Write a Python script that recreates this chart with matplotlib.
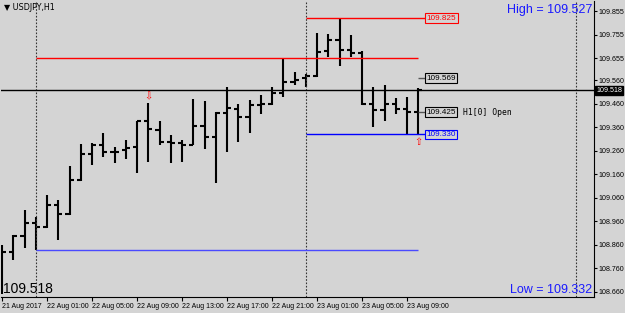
import matplotlib
matplotlib.use('Agg')
import matplotlib.pyplot as plt
import matplotlib.transforms as mtransforms
import numpy as np

# USDJPY H1 bars, 21 Aug 21:00 -> 23 Aug 10:00
opens = [108.838, 108.829, 108.898, 108.953, 108.936, 109.029, 108.991, 109.136, 109.246, 109.285,
         109.255, 109.264, 109.276, 109.385, 109.349, 109.296, 109.293, 109.285, 109.366, 109.319,
         109.421, 109.440, 109.404, 109.455, 109.459, 109.506, 109.553, 109.570, 109.578, 109.683,
         109.732, 109.689, 109.676, 109.459, 109.434, 109.459, 109.438, 109.425]
highs = [108.859, 108.902, 109.008, 108.978, 109.072, 109.051, 109.195, 109.289, 109.293, 109.336,
         109.276, 109.306, 109.387, 109.464, 109.387, 109.327, 109.306, 109.481, 109.472, 109.425,
         109.532, 109.459, 109.476, 109.498, 109.532, 109.655, 109.595, 109.587, 109.761, 109.757,
         109.825, 109.753, 109.685, 109.532, 109.540, 109.485, 109.489, 109.527]
lows = [108.651, 108.795, 108.846, 108.838, 108.932, 108.881, 108.987, 109.132, 109.200, 109.234,
        109.208, 109.225, 109.166, 109.212, 109.285, 109.208, 109.212, 109.285, 109.268, 109.123,
        109.255, 109.298, 109.336, 109.417, 109.455, 109.489, 109.540, 109.532, 109.574, 109.659,
        109.621, 109.659, 109.455, 109.361, 109.387, 109.417, 109.330, 109.332]
closes = [108.829, 108.898, 108.953, 108.936, 109.029, 108.991, 109.136, 109.246, 109.285, 109.255,
          109.255, 109.272, 109.385, 109.353, 109.298, 109.293, 109.285, 109.366, 109.319, 109.421,
          109.442, 109.404, 109.455, 109.459, 109.506, 109.553, 109.561, 109.578, 109.680, 109.732,
          109.689, 109.676, 109.459, 109.434, 109.459, 109.438, 109.425, 109.518]

tick_bars = [0, 4, 8, 12, 16, 20, 24, 28, 32, 36]
tick_labels = ['21 Aug 2017', '22 Aug 01:00', '22 Aug 05:00', '22 Aug 09:00', '22 Aug 13:00',
               '22 Aug 17:00', '22 Aug 21:00', '23 Aug 01:00', '23 Aug 05:00', '23 Aug 09:00']
price_ticks = [109.855, 109.755, 109.655, 109.560, 109.460, 109.360, 109.260,
               109.160, 109.060, 108.960, 108.860, 108.760, 108.660]
day_starts = [3, 27, 51]

bid = 109.518
prev_high, prev_low = 109.655, 108.838
day_high, day_low = 109.825, 109.330
open_price = 109.425
level_569 = 109.569

bg = '#d4d4d4'
small = 'Liberation Sans'
fig = plt.figure(figsize=(6.25, 3.13), dpi=100, facecolor=bg)
ax = fig.add_axes([1/625, 16/313, 593/625, 296/313])
ax.set_facecolor(bg)

x = np.arange(len(opens))
ax.vlines(x, lows, highs, color='black', lw=1.5)
ax.hlines(opens, x - 0.36, x, color='black', lw=1.5)
ax.hlines(closes, x, x + 0.36, color='black', lw=1.5)

for d in day_starts:
    ax.axvline(d, color='#333333', ls=(0, (1.5, 1.5)), lw=0.8)

ax.axhline(bid, color='black', lw=1)

end = len(opens) - 1
lab_x = end + 0.65
ax.hlines(prev_high, 3, end, color='red', lw=1)
ax.hlines(prev_low, 3, end, color='#4a4aff', lw=1)
ax.hlines(day_high, 27, lab_x, color='red', lw=1)
ax.hlines(day_low, 27, lab_x, color='blue', lw=1)
ax.hlines([open_price, level_569], end, lab_x, color='#555555', lw=1)

box = dict(boxstyle='square,pad=0.15', fc=bg, lw=0.8)
for val, col in [(day_high, 'red'), (level_569, 'black'), (open_price, 'black'), (day_low, 'blue')]:
    ax.text(lab_x + 0.1, val, f'{val:.3f}', color=col, fontsize=5.9, family=small,
            va='center', ha='left', bbox=dict(box, ec=col))
ax.text(41.0, open_price, 'H1[0] Open', fontsize=5.8, family='DejaVu Sans Mono',
        va='center', ha='left', color='black')

# high / low arrows
ax.text(13, highs[13] + 0.008, '\u21e9', color='red', fontsize=7, ha='center', va='bottom')
ax.text(end, day_low - 0.012, '\u21e7', color='red', fontsize=7, ha='center', va='top')

ax.text(0.997, 0.99, 'High = 109.527', transform=ax.transAxes, ha='right', va='top',
        color='#1a1aff', fontsize=9, family=small)
ax.text(0.997, 0.005, 'Low = 109.332', transform=ax.transAxes, ha='right', va='bottom',
        color='#1a1aff', fontsize=9, family=small)
ax.text(0.004, 0.004, '109.518', transform=ax.transAxes, ha='left', va='bottom',
        color='black', fontsize=10, family=small)
fig.text(4/625, 1 - 7/313, '\u25bc USDJPY,H1', fontsize=5.8, va='center', ha='left')

ax.set_xlim(-0.09, 52.62)
ax.set_ylim(108.638, 109.8976)

ax.set_xticks(tick_bars)
ax.set_xticklabels(tick_labels, fontsize=5.0, ha='left', family=small)
ax.yaxis.tick_right()
ax.set_yticks(price_ticks)
ax.set_yticklabels([f'{p:.3f}' for p in price_ticks], fontsize=5.1, family=small)
ax.tick_params(axis='x', direction='out', length=3, width=0.8, pad=1.5)
ax.tick_params(axis='y', direction='out', length=2.2, width=0.8, pad=0.8)

trans = mtransforms.blended_transform_factory(ax.transAxes, ax.transData)
ax.text(1.0035, bid, f'{bid:.3f}', transform=trans, color='white', fontsize=5.1, family=small,
        va='center', ha='left', bbox=dict(boxstyle='square,pad=0.15', fc='black', ec='black'))

ax.spines['top'].set_visible(False)
ax.spines['left'].set_visible(False)

fig.savefig('out.png', dpi=100, facecolor=bg)
